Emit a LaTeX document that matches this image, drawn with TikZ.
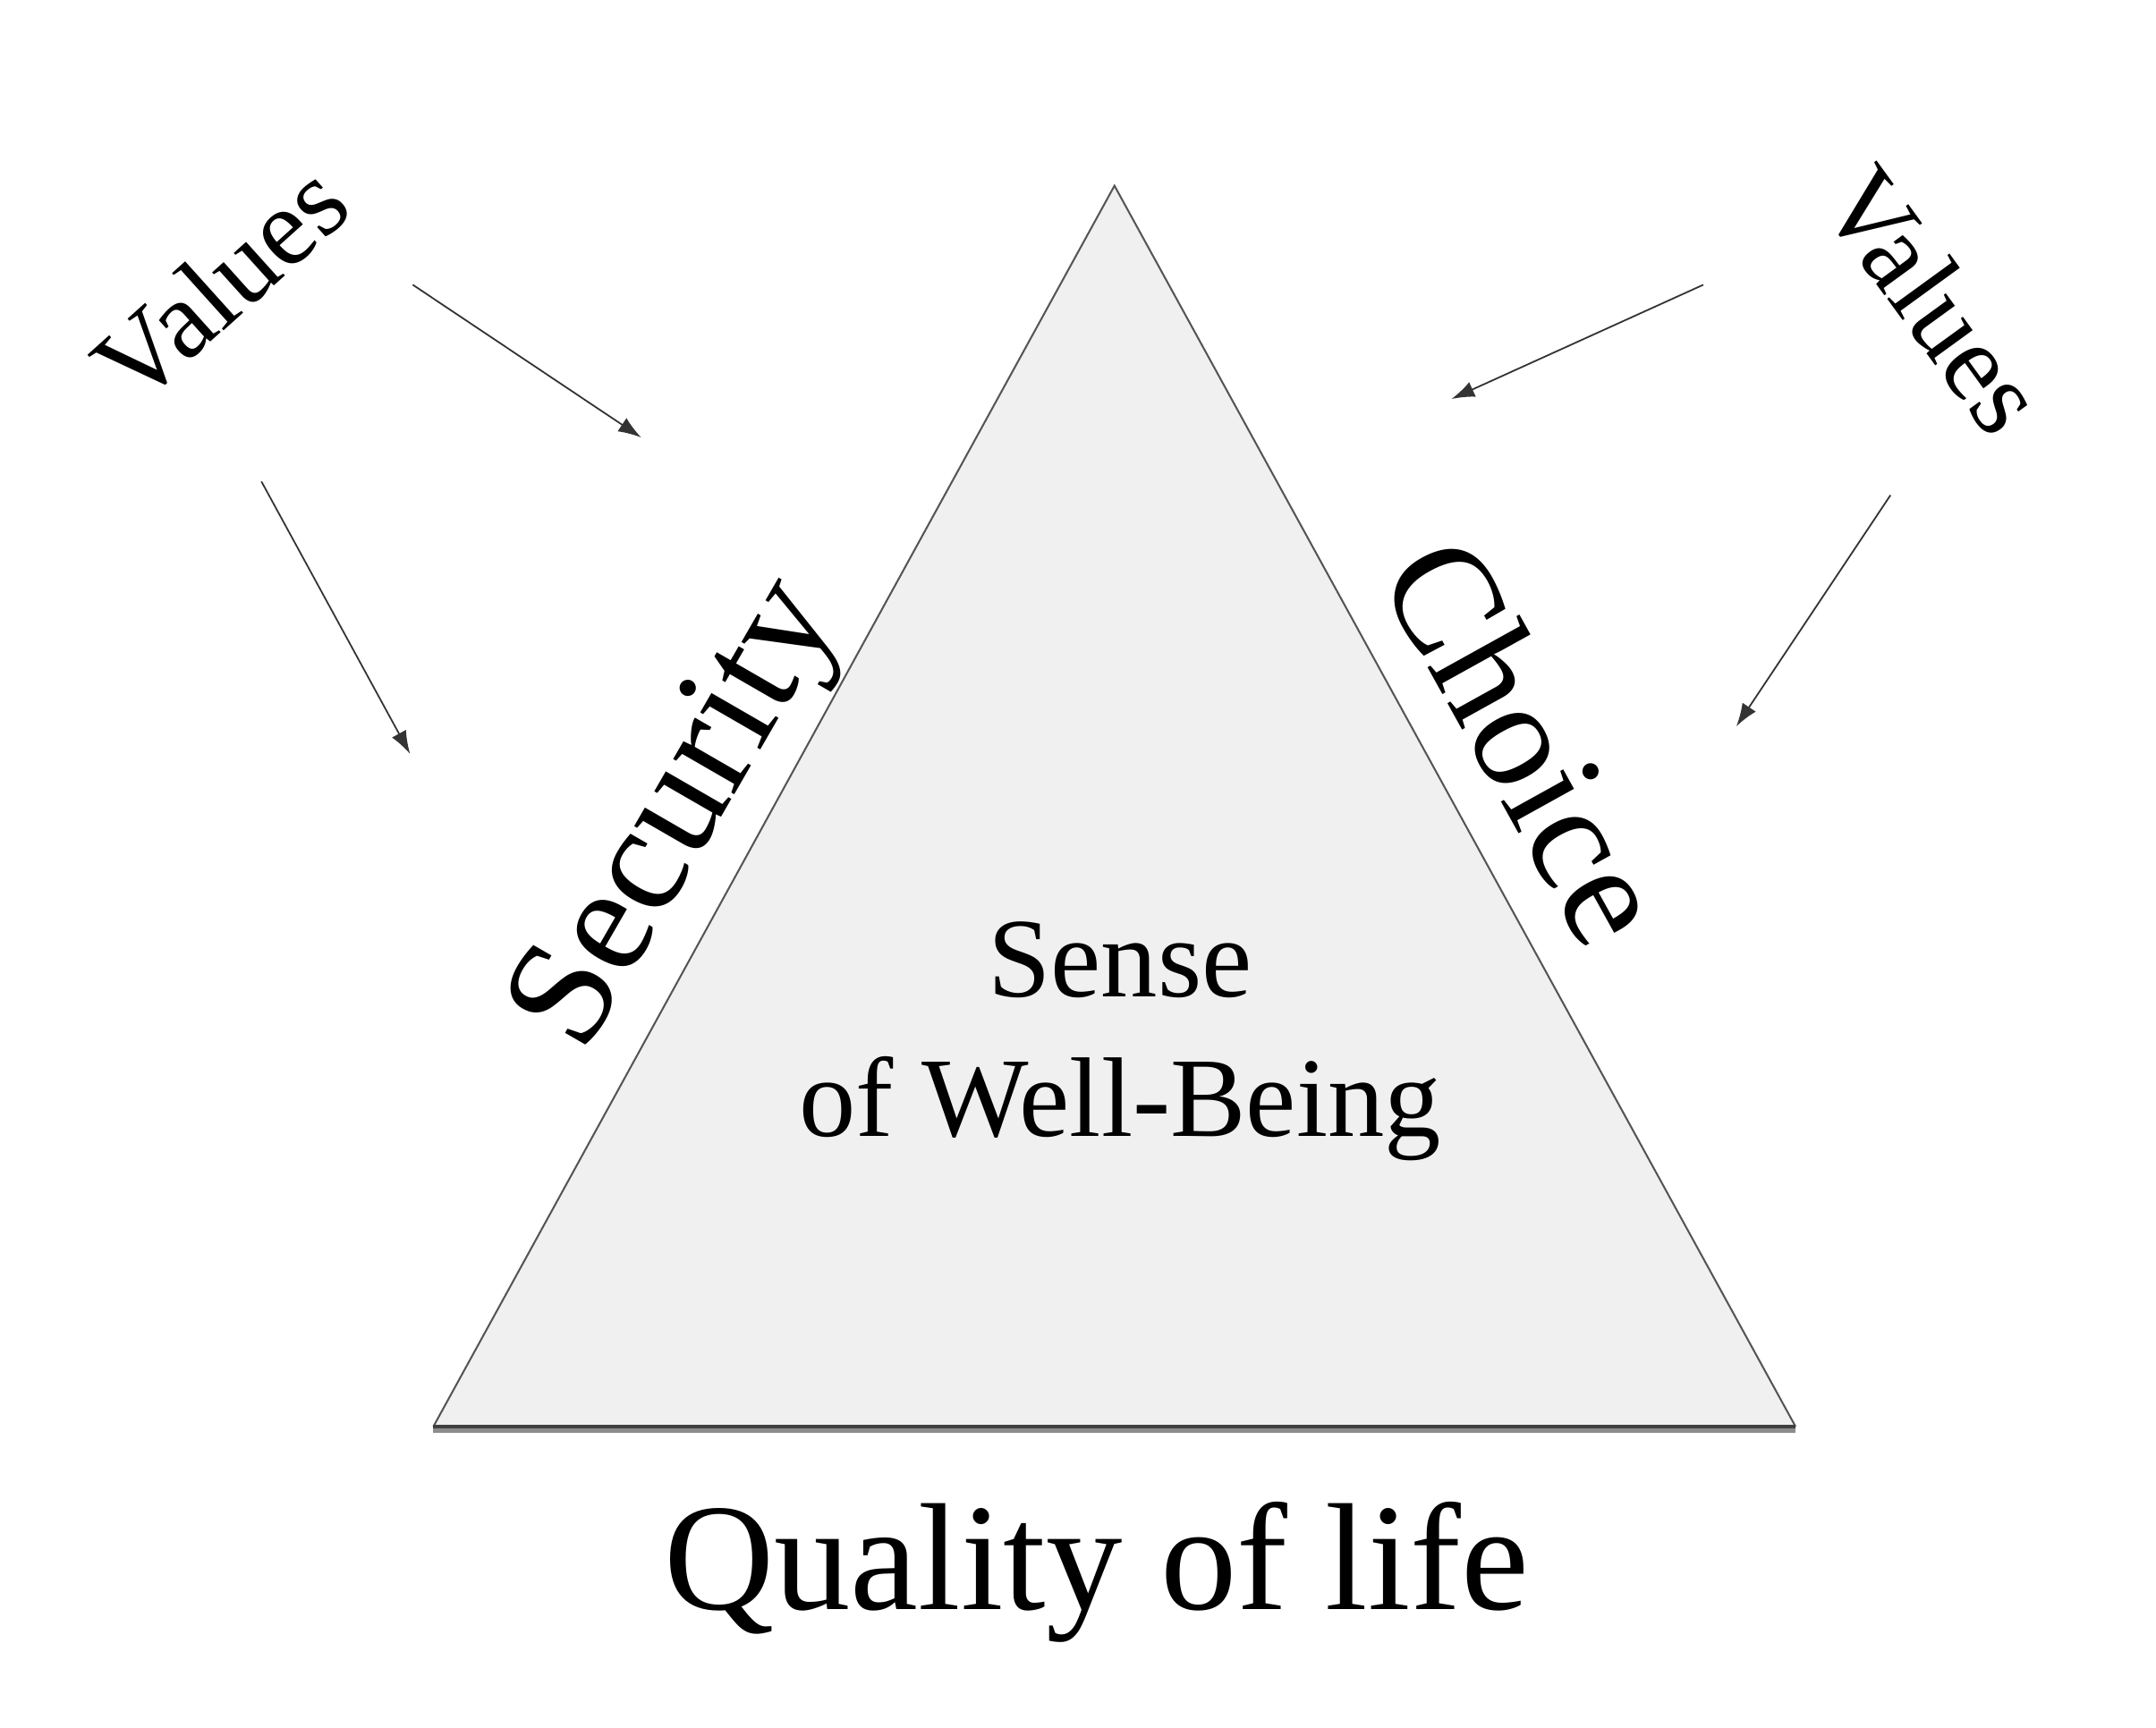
\documentclass[tikz,border=0pt]{standalone}
\usepackage{fontspec}
\setmainfont{Liberation Serif}
\usetikzlibrary{arrows.meta}
\definecolor{trifill}{HTML}{F0F0F0}
\definecolor{edgegray}{HTML}{555555}
\tikzset{
  arr/.style={draw=black!80, line width=0.35pt, -{Latex[length=5pt,width=3.5pt]}},
  lbl/.style={inner sep=0pt, text=black},
}
\begin{document}
\begin{tikzpicture}[x=0.3pt,y=-0.3pt]
\useasboundingbox (0,0) rectangle (1567,1256);
% triangle
\coordinate (apex) at (810,135);
\coordinate (bl) at (315,1037);
\coordinate (br) at (1305,1037);
\fill[trifill] (apex) -- (bl) -- (br) -- cycle;
\draw[edgegray, line width=0.4pt] (bl) -- (apex) -- (br);
\draw[black!45, line width=1.6pt] ([yshift=-0.5pt]bl) -- ([yshift=-0.5pt]br);
\draw[black!75, line width=0.7pt] (bl) -- (br);
% texts
\node[lbl, font=\fontsize{24.7}{30.5}\selectfont, align=center] (wb) at (814,757) {Sense\\of Well-Being};
\node[lbl, font=\fontsize{33.3}{40}\selectfont] (qol) at (797,1143) {Quality of life};
\node[lbl, font=\fontsize{33.5}{40}\selectfont, rotate=60] (sec) at (496,594) {Security};
\node[lbl, font=\fontsize{33.3}{40}\selectfont, rotate=-61] (cho) at (1110,538) {Choice};
\node[lbl, font=\fontsize{24.2}{28}\selectfont, rotate=42] (vl) at (160,206) {Values};
\node[lbl, font=\fontsize{24.2}{28}\selectfont, rotate=-54] (vr) at (1406,218) {Values};
% arrows
\coordinate (l1s) at (300,207); \coordinate (l1e) at (466,318);
\coordinate (l2s) at (190,350); \coordinate (l2e) at (298,548);
\coordinate (r1s) at (1238,207); \coordinate (r1e) at (1055,290);
\coordinate (r2s) at (1374,360); \coordinate (r2e) at (1262,528);
\draw[arr] (l1s) -- (l1e);
\draw[arr] (l2s) -- (l2e);
\draw[arr] (r1s) -- (r1e);
\draw[arr] (r2s) -- (r2e);
\end{tikzpicture}
\end{document}
